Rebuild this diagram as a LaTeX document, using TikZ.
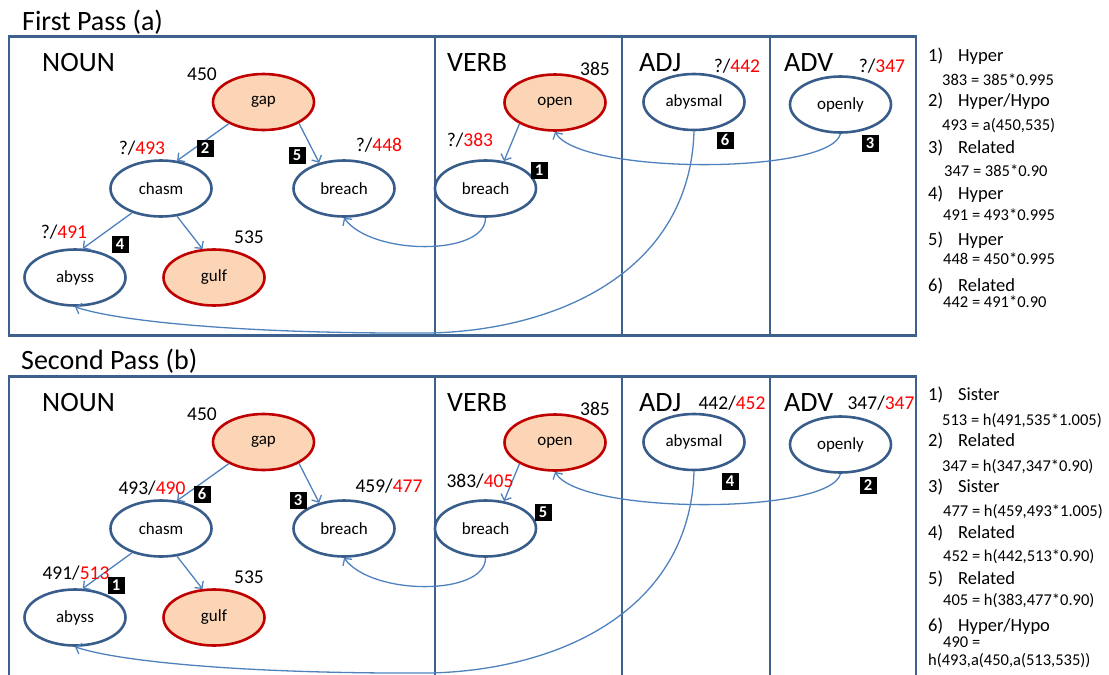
\documentclass[tikz,border=0pt]{standalone}
\usepackage{fontspec}
\setmainfont{Carlito}
\usetikzlibrary{arrows.meta,shapes.geometric}

\definecolor{panelblue}{RGB}{62,96,140}
\definecolor{nodeblue}{RGB}{56,93,138}
\definecolor{seedred}{RGB}{192,0,0}
\definecolor{seedfill}{RGB}{251,213,181}
\definecolor{edgeblue}{RGB}{79,129,189}
\definecolor{newred}{RGB}{255,0,0}

\tikzset{
  frame/.style={draw=panelblue, line width=2.9pt},
  word/.style={ellipse, draw=nodeblue, fill=white, line width=2.6pt,
    minimum width=101pt, minimum height=56pt, inner sep=0pt,
    font=\fontsize{17}{20}\selectfont},
  seed/.style={word, draw=seedred, fill=seedfill},
  score/.style={anchor=base, inner sep=0pt, font=\fontsize{19.5}{22}\selectfont},
  postag/.style={anchor=base west, inner sep=0pt, font=\fontsize{28}{30}\selectfont},
  passtitle/.style={anchor=base west, inner sep=0pt, font=\fontsize{28}{30}\selectfont},
  badge/.style={fill=black, text=white, minimum size=17pt, inner sep=0pt,
    font=\fontsize{16.5}{16}\bfseries\selectfont},
  link/.style={draw=edgeblue, line width=1.3pt,
    -{Straight Barb[length=5pt,width=11pt,line width=1.3pt]}},
  rulehead/.style={anchor=base west, inner sep=0pt, font=\fontsize{18.5}{20}\selectfont},
  rulecalc/.style={anchor=base west, inner sep=0pt, font=\fontsize{16.5}{18}\selectfont},
}

% the word graph shared by both passes; #1 prefixes the node names
\newcommand{\wordgraph}[1]{%
  \node[seed] (#1gap)    at (263.5,102)   {gap};
  \node[word] (#1chasm)  at (161,188.5)   {chasm};
  \node[word] (#1nbreach) at (344,188.5)  {breach};
  \node[word] (#1abyss)  at (75,277.5)    {abyss};
  \node[seed] (#1gulf)   at (214,277.5)   {gulf};
  \node[seed] (#1open)   at (555,102.5)   {open};
  \node[word] (#1vbreach) at (485.5,188.5) {breach};
  \node[word] (#1abysmal) at (694,102)    {abysmal};
  \node[word] (#1openly) at (840.5,104.5) {openly};
  \node[postag] (#1noun) at (42,71) {NOUN};
  \node[postag] (#1verb) at (447,71) {VERB};
  \node[postag] (#1adj)  at (639,71) {ADJ};
  \node[postag] (#1adv)  at (784,71) {ADV};
  \draw[link] (#1gap.212) -- (#1chasm.60);
  \draw[link] (#1gap.329) -- (#1nbreach.134);
  \draw[link] (#1chasm.220) -- (#1abyss.75);
  \draw[link] (#1chasm.300) -- (#1gulf.112);
  \draw[link] (#1open.211) -- (#1vbreach.56);
  \draw[link] (#1vbreach.south) .. controls (486,256) and (372,256) .. (#1nbreach.south);
  \draw[link] (#1openly.south) .. controls (830,175) and (580,175) .. (#1open.south);
  \draw[link] (#1abysmal.south) .. controls (690,270) and (560,330) .. (430,333)
    .. controls (250,334) and (120,322) .. (#1abyss.south);
}

\begin{document}
\begin{tikzpicture}[x=1pt,y=-1pt]
\useasboundingbox (0,0) rectangle (1109,675);

% ---------------- first pass ----------------
\node[passtitle] (t1) at (22,30) {First Pass (a)};
\draw[frame] (9,36.5) rectangle (916,335.5);
\foreach \x in {435,622,770} \draw[frame] (\x,36.5) -- (\x,335.5);
\wordgraph{a}
\node[score] (a450) at (202,80) {450};
\node[score] (a493) at (142,154) {?/\textcolor{newred}{493}};
\node[score] (a448) at (379,151) {?/\textcolor{newred}{448}};
\node[score] (a491) at (64,238) {?/\textcolor{newred}{491}};
\node[score] (a535) at (249,243) {535};
\node[score] (a385) at (595,75) {385};
\node[score] (a383) at (470,146) {?/\textcolor{newred}{383}};
\node[score] (a442) at (737,72.5) {?/\textcolor{newred}{442}};
\node[score] (a347) at (882,72.5) {?/\textcolor{newred}{347}};
\node[badge] (ab2) at (205,148) {2};
\node[badge] (ab5) at (297,155) {5};
\node[badge] (ab4) at (120,244) {4};
\node[badge] (ab1) at (539,170) {1};
\node[badge] (ab6) at (725,140) {6};
\node[badge] (ab3) at (870,143) {3};

\node[rulehead] (ar1) at (928,61.7)  {\makebox[30pt][l]{1)}Hyper};
\node[rulecalc] (ac1) at (942,85)    {383 = 385*0.995};
\node[rulehead] (ar2) at (928,106.7) {\makebox[30pt][l]{2)}Hyper/Hypo};
\node[rulecalc] (ac2) at (942,130)   {493 = a(450,535)};
\node[rulehead] (ar3) at (928,153)   {\makebox[30pt][l]{3)}Related};
\node[rulecalc] (ac3) at (944,176.7) {347 = 385*0.90};
\node[rulehead] (ar4) at (928,199)   {\makebox[30pt][l]{4)}Hyper};
\node[rulecalc] (ac4) at (943,220)   {491 = 493*0.995};
\node[rulehead] (ar5) at (928,245)   {\makebox[30pt][l]{5)}Hyper};
\node[rulecalc] (ac5) at (943,264)   {448 = 450*0.995};
\node[rulehead] (ar6) at (928,291.7) {\makebox[30pt][l]{6)}Related};
\node[rulecalc] (ac6) at (943,307)   {442 = 491*0.90};

% ---------------- second pass ----------------
\node[passtitle] (t2) at (21,369) {Second Pass (b)};
\draw[frame] (9,700) -- (9,376.5) -- (916,376.5) -- (916,700);
\foreach \x in {435,622,770} \draw[frame] (\x,376.5) -- (\x,700);
\begin{scope}[shift={(0,340)}]
\wordgraph{b}
\end{scope}
\node[score] (b450) at (202,420) {450};
\node[score] (b490) at (152,494) {493/\textcolor{newred}{490}};
\node[score] (b477) at (389,492) {459/\textcolor{newred}{477}};
\node[score] (b513) at (76,579) {491/\textcolor{newred}{513}};
\node[score] (b535) at (249,583) {535};
\node[score] (b385) at (595,415) {385};
\node[score] (b405) at (480,487) {383/\textcolor{newred}{405}};
\node[score] (b452) at (732,409) {442/\textcolor{newred}{452}};
\node[score] (b347) at (881,409) {347/\textcolor{newred}{347}};
\node[badge] (bb6) at (202,494) {6};
\node[badge] (bb3) at (298,500) {3};
\node[badge] (bb1) at (116,585) {1};
\node[badge] (bb5) at (543,512) {5};
\node[badge] (bb4) at (730,481) {4};
\node[badge] (bb2) at (868,485) {2};

\node[rulehead] (br1) at (928,400.7) {\makebox[30pt][l]{1)}Sister};
\node[rulecalc] (bc1) at (942,425)   {513 = h(491,535*1.005)};
\node[rulehead] (br2) at (928,446.7) {\makebox[30pt][l]{2)}Related};
\node[rulecalc] (bc2) at (942,471.7) {347 = h(347,347*0.90)};
\node[rulehead] (br3) at (928,492.7) {\makebox[30pt][l]{3)}Sister};
\node[rulecalc] (bc3) at (943,516.7) {477 = h(459,493*1.005)};
\node[rulehead] (br4) at (928,538.3) {\makebox[30pt][l]{4)}Related};
\node[rulecalc] (bc4) at (943,561)   {452 = h(442,513*0.90)};
\node[rulehead] (br5) at (928,584.3) {\makebox[30pt][l]{5)}Related};
\node[rulecalc] (bc5) at (943,605)   {405 = h(383,477*0.90)};
\node[rulehead] (br6) at (928,631)   {\makebox[30pt][l]{6)}Hyper/Hypo};
\node[rulecalc] (bc6) at (943,647.3) {490 =};
\node[rulecalc] (bc7) at (928,665)   {h(493,a(450,a(513,535))};
\end{tikzpicture}
\end{document}
